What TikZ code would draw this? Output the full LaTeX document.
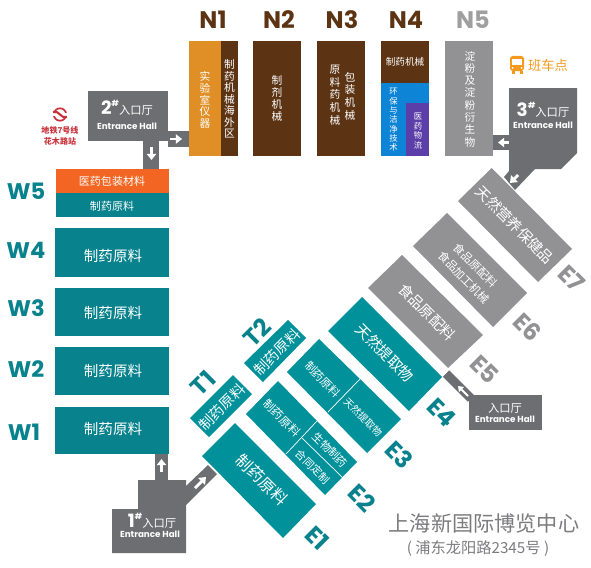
\documentclass[tikz,border=0pt]{standalone}
\usepackage{fontspec}
\setmainfont{Noto Sans CJK SC}
\newfontfamily\zonefont{Poppins}
\usetikzlibrary{arrows.meta}
\definecolor{zoneteal}{RGB}{8,130,140}
\definecolor{diagteal}{RGB}{0,145,155}
\definecolor{zonebrown}{RGB}{92,52,20}
\definecolor{zoneorange}{RGB}{242,101,34}
\definecolor{zoneochre}{RGB}{224,143,38}
\definecolor{zoneblue}{RGB}{14,132,214}
\definecolor{zonepurple}{RGB}{91,62,168}
\definecolor{zonegrey}{RGB}{146,146,148}
\definecolor{hallgrey}{RGB}{109,110,113}
\definecolor{metrored}{RGB}{200,50,60}
\definecolor{busorange}{RGB}{243,154,30}
\tikzset{
  zonetag/.style={font=\zonefont\bfseries\fontsize{#1}{#1}\selectfont,inner sep=0pt},
  zonetag/.default=16,
  boxtext/.style={text=white,align=center,inner sep=0pt,font=\fontsize{#1}{#1}\selectfont},
  boxtext/.default=8,
  vtext/.style={text=white,align=center,inner sep=0pt,font=\fontsize{7.6}{#1}\selectfont},
  vtext/.default=8.2,
  hallbar/.style={draw=hallgrey,line width=11pt},
  flowarrow/.style={draw=white,line width=2pt,-{Triangle[length=4.4pt,width=6.6pt]}},
  hallno/.style={text=white,inner sep=0pt,font=\fontsize{8}{8}\selectfont},
  hallen/.style={text=white,inner sep=0pt,font=\zonefont\bfseries\fontsize{6.2}{6.2}\selectfont},
}
\newcommand{\hallnum}[1]{{\zonefont\bfseries\fontsize{13}{13}\selectfont #1\raisebox{.45em}{\fontsize{6}{6}\selectfont\#}}}
\begin{document}
\begin{tikzpicture}[x=.709pt,y=-.709pt,line width=.35pt]
\useasboundingbox (0,0) rectangle (591,567);
\coordinate (hall2r) at (168,139);
\coordinate (n1l) at (189,139);
\coordinate (hall2b) at (151,141);
\coordinate (w5t) at (151,169);
\coordinate (hall3l) at (509,142.5);
\coordinate (n5r) at (493,142.5);
\coordinate (w1b) at (161.5,454);
\coordinate (hall1t) at (161.5,480);
\coordinate (e4c) at (446,373.5);
\coordinate (hall0t) at (471,398.5);
\draw[hallbar] (hall2r)--(n1l);
\draw[hallbar] (hall2b)--(w5t);
\draw[hallbar] (hall3l)--(n5r);
\draw[hallbar,line width=9.5pt] (w1b)--(hall1t);
\draw[hallbar,line width=6.5pt] (e4c)--(hall0t);
\fill[hallgrey] (88,91) rectangle (168,141);
\fill[hallgrey] (509,88)--(577,88)--(577,153)--(561,169)--(535,169)--(515,190)--(504,177)--(509,171)--cycle;
\fill[hallgrey] (112,509)--(138,509)--(138,480)--(186,480)--(186,486)--(208,465)--(217,474)--(186,505)--(186,553)--(112,553)--cycle;
\fill[hallgrey] (469,395) rectangle (542,430);
\draw[flowarrow] (170,139)--(182,139);
\draw[flowarrow] (151.5,147)--(151.5,160);
\draw[flowarrow] (161.5,472)--(161.5,459);
\draw[flowarrow] (195,488)--(206,477);
\draw[flowarrow] (509,142.5)--(498,142.5);
\draw[flowarrow] (518,175)--(510,183);
\draw[flowarrow,line width=1.4pt,-{Triangle[length=3.6pt,width=5pt]}] (468,396)--(458,386);
\node[hallno] (hall2a) at (127,108) {\hallnum{2}入口厅};
\node[hallen] (hall2c) at (127,126) {Entrance Hall};
\node[hallno] (hall3a) at (543,110) {\hallnum{3}入口厅};
\node[hallen] (hall3c) at (543,125) {Entrance Hall};
\node[hallno] (hall1a) at (152,521) {\hallnum{1}入口厅};
\node[hallen] (hall1c) at (150,534) {Entrance Hall};
\node[hallno] (hall0a) at (505,408) {入口厅};
\node[hallen] (hall0c) at (505,419) {Entrance Hall};
\fill[zoneochre] (189,41) rectangle (221,156);
\fill[zonebrown] (221,41) rectangle (238,156);
\fill[zonebrown] (253,41) rectangle (301,156);
\fill[zonebrown] (317,41) rectangle (365,156);
\fill[zonebrown] (381,41) rectangle (429,83);
\fill[zoneblue] (381,83) rectangle (429,156);
\fill[zonepurple] (406,103) rectangle (429,156);
\fill[zonegrey] (445,41) rectangle (493,156);
\node[zonetag=17,text=zonebrown] (n1) at (213,20) {N1};
\node[zonetag=17,text=zonebrown] (n2) at (279,20) {N2};
\node[zonetag=17,text=zonebrown] (n3) at (342,20) {N3};
\node[zonetag=17,text=zonebrown] (n4) at (406,20) {N4};
\node[zonetag=17,text=gray!75] (n5) at (473,20) {N5};
\node[vtext] (n1a) at (205,100) {实\\验\\室\\仪\\器};
\node[vtext] (n1b) at (229.5,99) {制\\药\\机\\械\\海\\外\\区};
\node[vtext=8.5] (n2a) at (277,98) {制\\剂\\机\\械};
\node[vtext=9] (n3a) at (335,95) {原\\料\\药\\机\\械};
\node[vtext=9] (n3b) at (350,96) {包\\装\\机\\械};
\node[boxtext=6.8] (n4a) at (405,62) {制药机械};
\node[vtext=6.6,font=\fontsize{5.9}{6.6}\selectfont] (n4b) at (393.5,120) {环\\保\\与\\洁\\净\\技\\术};
\node[vtext=6.8,font=\fontsize{5.9}{6.8}\selectfont] (n4c) at (418,131) {医\\药\\物\\流};
\node[vtext=8.7] (n5a) at (470,99) {淀\\粉\\及\\淀\\粉\\衍\\生\\物};
\fill[zoneorange] (56,169) rectangle (169,193);
\fill[zoneteal] (56,193) rectangle (169,217);
\fill[zoneteal] (54.5,228) rectangle (169,277);
\fill[zoneteal] (54.5,288) rectangle (169,336);
\fill[zoneteal] (54.5,347) rectangle (169,395);
\fill[zoneteal] (54.5,407) rectangle (169,454);
\node[zonetag,text=zoneteal] (w5) at (26,191) {W5};
\node[zonetag,text=zoneteal] (w4) at (26,250) {W4};
\node[zonetag,text=zoneteal] (w3) at (26,308) {W3};
\node[zonetag,text=zoneteal] (w2) at (26,369) {W2};
\node[zonetag,text=zoneteal] (w1) at (24,432) {W1};
\node[boxtext=7.8] (w5a) at (112,181) {医药包装材料};
\node[boxtext=7.8] (w5b) at (112,206) {制药原料};
\node[boxtext=10.3] (w4a) at (113,256) {制药原料};
\node[boxtext=10.3] (w3a) at (113,313) {制药原料};
\node[boxtext=10.3] (w2a) at (113,371) {制药原料};
\node[boxtext=10.3] (w1a) at (113,429) {制药原料};
\fill[zonegrey] (491.7,168)--(572,249)--(538,282)--(458,201)--cycle;
\fill[zonegrey] (447,213)--(527,293)--(493,327)--(413,246)--cycle;
\fill[zonegrey] (402,255)--(483,335)--(448,368)--(368,288)--cycle;
\fill[diagteal] (362,297)--(442,377)--(409,411)--(328,331)--cycle;
\fill[diagteal] (319,339)--(401,419)--(367,453)--(287,372)--cycle;
\fill[diagteal] (278,381)--(357,462)--(325,495)--(246,414)--cycle;
\fill[diagteal] (235,423)--(316,504)--(283,538)--(202,456)--cycle;
\fill[diagteal] (233,375)--(252,394)--(209,437)--(190,418)--cycle;
\fill[diagteal] (288,320)--(306,338)--(263,382)--(244,363)--cycle;
\draw[white,line width=.5pt] (360,379)--(328,412);
\draw[white,line width=.5pt] (317,421)--(286,454);
\draw[white,line width=.5pt] (302,438)--(342,477);
\node[boxtext=10.4,rotate=-45] (e7a) at (515,225) {天然营养保健品};
\node[boxtext=8,rotate=-45] (e6a) at (470,271) {食品原配料\\[4pt]食品加工机械};
\node[boxtext=10.4,rotate=-45] (e5a) at (427,312) {食品原配料};
\node[boxtext=10.6,rotate=-45] (e4a) at (385,353) {天然提取物};
\node[boxtext=8,rotate=-45] (e3a) at (323,379) {制药原料};
\node[boxtext=7,rotate=-45] (e3b) at (363,417) {天然提取物};
\node[boxtext=8.2,rotate=-45] (e2a) at (282,418) {制药原料};
\node[boxtext=7.8,rotate=-45] (e2b) at (330,450) {生物制药};
\node[boxtext=7.6,rotate=-45] (e2c) at (313,467) {合同定制};
\node[boxtext=11.4,rotate=-45] (e1a) at (262,480) {制药原料};
\node[boxtext=10.2,rotate=45] (t1a) at (222,407) {制药原料};
\node[boxtext=10.2,rotate=45] (t2a) at (277,352) {制药原料};
\node[zonetag=17,text=zoneteal,rotate=45] (t1) at (203,383) {T1};
\node[zonetag=17,text=zoneteal,rotate=45] (t2) at (257,332) {T2};
\node[zonetag=17,text=zonegrey,rotate=-45] (e7) at (572,278) {E7};
\node[zonetag=17,text=zonegrey,rotate=-45] (e6) at (528,327) {E6};
\node[zonetag=17,text=zonegrey,rotate=-45] (e5) at (485,369) {E5};
\node[zonetag=17,text=zoneteal,rotate=-45] (e4) at (442,413) {E4};
\node[zonetag=17,text=zoneteal,rotate=-45] (e3) at (399,455) {E3};
\node[zonetag=17,text=zoneteal,rotate=-45] (e2) at (362,498) {E2};
\node[zonetag=17,text=zoneteal,rotate=-45] (e1) at (317,538) {E1};
\draw[metrored,line width=1.2pt] (60,114.5) circle (6.2);
\draw[white,line width=2.6pt] (50,114.5)--(70,114.5);
\draw[metrored,line width=1.5pt] (53,112) .. controls (56,111) and (57,112) .. (60,114.5) .. controls (63,117) and (64,118) .. (67,117);
\node[text=metrored,inner sep=0pt,font=\bfseries\fontsize{5.7}{5.7}\selectfont] (metroa) at (60,130) {地铁7号线};
\node[text=metrored,inner sep=0pt,font=\bfseries\fontsize{5.7}{5.7}\selectfont] (metrob) at (60,141) {花木路站};
\fill[busorange,rounded corners=2pt] (510,56) rectangle (524,71);
\fill[busorange] (511.5,71) rectangle (514.5,74);
\fill[busorange] (519.5,71) rectangle (522.5,74);
\fill[white] (512,59.5) rectangle (522,65.5);
\fill[white] (512.5,68) circle (1);
\fill[white] (521.5,68) circle (1);
\node[text=busorange,inner sep=0pt,font=\fontsize{9.4}{9.4}\selectfont] (busa) at (548,65) {班车点};
\node[text=hallgrey!90,inner sep=0pt,font=\fontsize{15}{15}\selectfont] (titlea) at (484,523) {上海新国际博览中心};
\node[text=hallgrey!90,inner sep=0pt,font=\fontsize{10.8}{10.8}\selectfont] (titleb) at (478,549) {( 浦东龙阳路2345号 )};
\end{tikzpicture}
\end{document}
